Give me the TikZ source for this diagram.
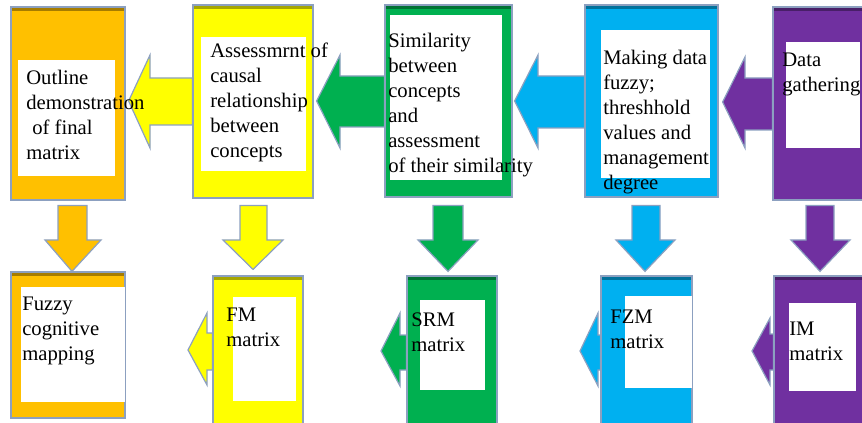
\documentclass[tikz,border=0pt]{standalone}
\usepackage{fontspec}
\setmainfont{Liberation Serif}
\usetikzlibrary{fit,calc,backgrounds}

\definecolor{cOrange}{RGB}{255,192,0}
\definecolor{cYellow}{RGB}{255,255,0}
\definecolor{cGreen}{RGB}{0,176,80}
\definecolor{cBlue}{RGB}{0,176,240}
\definecolor{cPurple}{RGB}{112,48,160}
\definecolor{cEdge}{RGB}{140,160,192}

\tikzset{
  box/.style={draw=cEdge, line width=0.9pt, inner sep=0pt,
    path picture={\draw[line width=6pt, black, opacity=0.35]
      (path picture bounding box.north west) -- (path picture bounding box.north east);}},
  inset/.style={fill=white, inner sep=0pt},
  lbl/.style={font=\fontsize{15.5}{18.75}\selectfont, align=left, anchor=north west,
    inner sep=0pt, text=black},
  barrow/.style={draw=cEdge, line width=0.9pt, line join=miter}
}

\begin{document}
\begin{tikzpicture}[x=0.75pt,y=0.75pt,yscale=-1,xscale=1]
                \useasboundingbox (0,0) rectangle (862,423);

                %Top row boxes
                \node[box, fill=cOrange, fit={(11,7) (125,200)}] (outline) {};
                \node[box, fill=cYellow, fit={(193,5) (313,198)}] (causal) {};
                \node[box, fill=cGreen, fit={(385,5) (512,197)}] (simil) {};
                \node[box, fill=cBlue, fit={(585,5) (718,197)}] (fuzzify) {};
                \node[box, fill=cPurple, fit={(773,7) (866,200)}] (gather) {};

                %Bottom row boxes
                \node[box, fill=cOrange, fit={(11,272) (125,418)}] (fcm) {};
                \node[box, fill=cYellow, fit={(213,276) (303,426)}] (fm) {};
                \node[box, fill=cGreen, fit={(407,276) (497,426)}] (srm) {};
                \node[box, fill=cBlue, fit={(601,276) (692,426)}] (fzm) {};
                \node[box, fill=cPurple, fit={(774,276) (866,426)}] (im) {};

                %Free ends of the bottom arrows
                \coordinate (fm-tip) at (188,350);
                \coordinate (srm-tip) at (381,351);
                \coordinate (fzm-tip) at (580,351);
                \coordinate (im-tip) at (752,351);

                \begin{pgfonlayer}{background}
                %Left Arrows, top row
                \draw[barrow, fill=cYellow] (causal.west |- 0,78) -- (150,78) -- (150,55) -- ($(outline.east |- 0,101)+(3,0)$) -- (150,148) -- (150,125) -- (causal.west |- 0,125) -- cycle;
                \draw[barrow, fill=cGreen] (simil.west |- 0,76) -- (340,76) -- (340,55) -- ($(causal.east |- 0,101)+(3,0)$) -- (340,148) -- (340,127) -- (simil.west |- 0,127) -- cycle;
                \draw[barrow, fill=cBlue] (fuzzify.west |- 0,76) -- (538,76) -- (538,55) -- ($(simil.east |- 0,101)+(2,0)$) -- (538,148) -- (538,128) -- (fuzzify.west |- 0,128) -- cycle;
                \draw[barrow, fill=cPurple] (gather.west |- 0,78) -- (745,78) -- (745,57) -- ($(fuzzify.east |- 0,102)+(4,0)$) -- (745,148) -- (745,130) -- (gather.west |- 0,130) -- cycle;

                %Down Arrows
                \draw[barrow, fill=cOrange] ($(58,0 |- outline.south)+(0,5)$) -- (58,240) -- (45,240) -- (72,0 |- fcm.north) -- (101,240) -- (87,240) -- ($(87,0 |- outline.south)+(0,5)$) -- cycle;
                \draw[barrow, fill=cYellow] ($(240,0 |- causal.south)+(0,7)$) -- (240,240) -- (223,240) -- ($(253,0 |- fm.north)+(0,-6)$) -- (283,240) -- (267,240) -- ($(267,0 |- causal.south)+(0,7)$) -- cycle;
                \draw[barrow, fill=cGreen] ($(433,0 |- simil.south)+(0,8)$) -- (433,240) -- (418,240) -- ($(448,0 |- srm.north)+(0,-4)$) -- (478,240) -- (463,240) -- ($(463,0 |- simil.south)+(0,8)$) -- cycle;
                \draw[barrow, fill=cBlue] ($(632,0 |- fuzzify.south)+(0,8)$) -- (632,240) -- (616,240) -- ($(645,0 |- fzm.north)+(0,-4)$) -- (675,240) -- (660,240) -- ($(660,0 |- fuzzify.south)+(0,8)$) -- cycle;
                \draw[barrow, fill=cPurple] ($(806,0 |- gather.south)+(0,5)$) -- (806,240) -- (791,240) -- ($(820,0 |- im.north)+(0,-4)$) -- (850,240) -- (834,240) -- ($(834,0 |- gather.south)+(0,5)$) -- cycle;

                %Left Arrows, bottom row
                \draw[barrow, fill=cYellow] (fm.west |- 0,333) -- (207,333) -- (207,313) -- (fm-tip) -- (207,385) -- (207,370) -- (fm.west |- 0,370) -- cycle;
                \draw[barrow, fill=cGreen] (srm.west |- 0,335) -- (400,335) -- (400,313) -- (srm-tip) -- (400,386) -- (400,370) -- (srm.west |- 0,370) -- cycle;
                \draw[barrow, fill=cBlue] (fzm.west |- 0,335) -- (598,335) -- (598,313) -- (fzm-tip) -- (598,386) -- (598,370) -- (fzm.west |- 0,370) -- cycle;
                \draw[barrow, fill=cPurple] (im.west |- 0,334) -- (770,334) -- (770,318) -- (im-tip) -- (770,385) -- (770,370) -- (im.west |- 0,370) -- cycle;
                \end{pgfonlayer}

                %White insets
                \node[inset, fit={(18,60) (115,176)}] (outline-in) {};
                \node[inset, fit={(201,37) (306,171)}] (causal-in) {};
                \node[inset, fit={(390,15) (502,180)}] (simil-in) {};
                \node[inset, fit={(601,30) (710,178)}] (fuzzify-in) {};
                \node[inset, fit={(786,42) (860,148)}] (gather-in) {};
                \node[inset, fit={(21,287) (125,402)}] (fcm-in) {};
                \node[inset, fit={(233,297) (296,401)}] (fm-in) {};
                \node[inset, fit={(420,300) (485,390)}] (srm-in) {};
                \node[inset, fit={(625,296) (692,388)}] (fzm-in) {};
                \node[inset, fit={(789,303) (856,391)}] (im-in) {};

                % Text Node
                \node[lbl] (outline-txt) at (26,70) {Outline\\demonstration\\\hspace{4.5pt}of final\\matrix};
                % Text Node
                \node[lbl] (causal-txt) at (210,43) {Assessmrnt of\\causal\\relationship\\between\\concepts};
                % Text Node
                \node[lbl] (simil-txt) at (388,33) {Similarity\\between\\concepts\\and\\assessment\\of their similarity};
                % Text Node
                \node[lbl] (fuzzify-txt) at (603,50) {Making data\\fuzzy;\\threshhold\\values and\\management\\degree};
                % Text Node
                \node[lbl] (gather-txt) at (782,53) {Data\\gathering};
                % Text Node
                \node[lbl] (fcm-txt) at (22,297) {Fuzzy\\cognitive\\mapping};
                % Text Node
                \node[lbl] (fm-txt) at (226,308) {FM\\matrix};
                % Text Node
                \node[lbl] (srm-txt) at (411,313) {SRM\\matrix};
                % Text Node
                \node[lbl] (fzm-txt) at (610,310) {FZM\\matrix};
                % Text Node
                \node[lbl] (im-txt) at (789,322) {IM\\matrix};

\end{tikzpicture}
\end{document}
